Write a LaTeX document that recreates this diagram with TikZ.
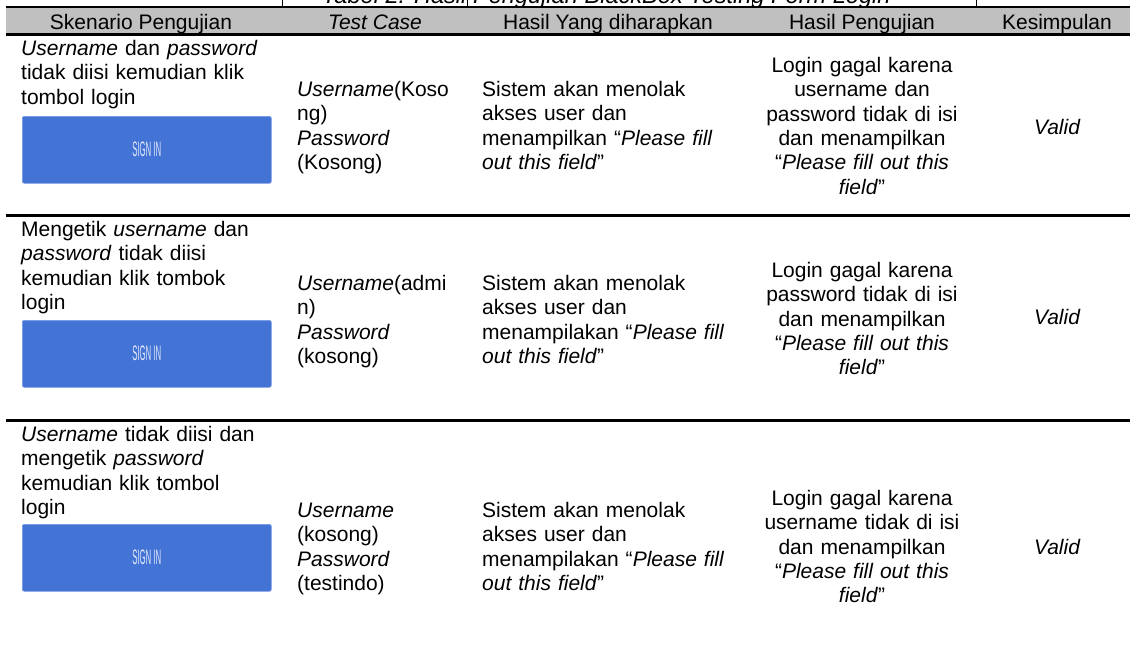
\documentclass[tikz,border=0pt]{standalone}
\usepackage{fontspec}
\usepackage{graphicx}
\setmainfont{Liberation Sans}
\definecolor{hdrgray}{RGB}{192,192,192}
\definecolor{btnblue}{RGB}{68,115,214}
\definecolor{btnedge}{RGB}{120,155,230}
\definecolor{signtxt}{RGB}{225,233,250}
\newcommand{\mystrut}{\rule{0pt}{16pt}}
\begin{document}
\begin{tikzpicture}[x=1pt,y=-1pt,
  basefont/.style={font=\fontsize{21}{24.4}\selectfont},
  txt/.style={basefont, inner sep=0pt, text width=300pt, align=left, anchor=north west},
  ctxt/.style={basefont, inner sep=0pt, text width=260pt, align=center, anchor=north},
  hdr/.style={basefont, inner sep=0pt, anchor=base},
  valid/.style={font=\fontsize{21}{24.4}\selectfont\itshape, inner sep=0pt, anchor=base},
  btn/.style={fill=btnblue, draw=btnedge, line width=0.6pt, rounded corners=2pt,
    minimum width=249pt, minimum height=67pt, inner sep=0pt, anchor=north west},
  signin/.style={font=\fontsize{21}{21}\selectfont, text=signtxt, inner sep=0pt},
  sepline/.style={line width=2.4pt},
  thinline/.style={line width=1.1pt},
  tick/.style={line width=0.8pt}]
\useasboundingbox (0,0) rectangle (1130,664);

% title (clipped at top)
\node[anchor=base west, inner sep=0pt, font=\fontsize{23.6}{28}\selectfont\itshape] (title) at (322,3.5)
  {Tabel 2. Hasil Pengujian BlackBox Testing Form Login};

% column ticks of the title row
\draw[tick] (282,-2) -- (282,7);
\draw[tick] (467,-2) -- (467,7);
\draw[tick] (752,-2) -- (752,7);
\draw[tick] (976,-2) -- (976,7);

% header band
\fill[hdrgray] (6,7) rectangle (1135,34);
\draw[thinline] (6,7) -- (1135,7);
\draw[sepline] (6,34.5) -- (1135,34.5);
\node[hdr] (h1) at (141,29) {Skenario Pengujian};
\node[hdr] (h2) at (375,29) {\itshape Test Case};
\node[hdr] (h3) at (608,29) {Hasil Yang diharapkan};
\node[hdr] (h4) at (862,29) {Hasil Pengujian};
\node[hdr] (h5) at (1057,29) {Kesimpulan};

% row separators
\draw[sepline] (6,215.5) -- (1135,215.5);
\draw[sepline] (6,420.5) -- (1135,420.5);

% ---------- row 1
\node[txt] (r1c1) at (21,39) {\mystrut\textit{Username} dan \textit{password}\\tidak diisi kemudian klik\\tombol login};
\node[btn] (btn1) at (22,116) {};
\node[signin] (sign1) at ([yshift=1pt]btn1.center) {\scalebox{0.37}[1]{SIGN IN}};
\node[txt] (r1c2) at (297,80) {\mystrut\textit{Username}(Koso\\ng)\\\textit{Password}\\(Kosong)};
\node[txt] (r1c3) at (482,80) {\mystrut Sistem akan menolak\\akses user dan\\menampilkan “\textit{Please fill}\\\textit{out this field}”};
\node[ctxt] (r1c4) at (862,56) {\mystrut Login gagal karena\\username dan\\password tidak di isi\\dan menampilkan\\“\textit{Please fill out this}\\\textit{field}”};
\node[valid] (r1c5) at (1057,134) {Valid};

% ---------- row 2
\node[txt] (r2c1) at (21,220) {\mystrut Mengetik \textit{username} dan\\\textit{password} tidak diisi\\kemudian klik tombok\\login};
\node[btn] (btn2) at (22,320) {};
\node[signin] (sign2) at ([yshift=1pt]btn2.center) {\scalebox{0.37}[1]{SIGN IN}};
\node[txt] (r2c2) at (297,274) {\mystrut\textit{Username}(admi\\n)\\\textit{Password}\\(kosong)};
\node[txt] (r2c3) at (482,274) {\mystrut Sistem akan menolak\\akses user dan\\menampilakan “\textit{Please fill}\\\textit{out this field}”};
\node[ctxt] (r2c4) at (862,261) {\mystrut Login gagal karena\\password tidak di isi\\dan menampilkan\\“\textit{Please fill out this}\\\textit{field}”};
\node[valid] (r2c5) at (1057,324) {Valid};

% ---------- row 3
\node[txt] (r3c1) at (21,425) {\mystrut\textit{Username} tidak diisi dan\\mengetik \textit{password}\\kemudian klik tombol\\login};
\node[btn] (btn3) at (22,524) {};
\node[signin] (sign3) at ([yshift=1pt]btn3.center) {\scalebox{0.37}[1]{SIGN IN}};
\node[txt] (r3c2) at (297,501) {\mystrut\textit{Username}\\(kosong)\\\textit{Password}\\(testindo)};
\node[txt] (r3c3) at (482,501) {\mystrut Sistem akan menolak\\akses user dan\\menampilakan “\textit{Please fill}\\\textit{out this field}”};
\node[ctxt] (r3c4) at (862,489) {\mystrut Login gagal karena\\username tidak di isi\\dan menampilkan\\“\textit{Please fill out this}\\\textit{field}”};
\node[valid] (r3c5) at (1057,554) {Valid};
\end{tikzpicture}
\end{document}
